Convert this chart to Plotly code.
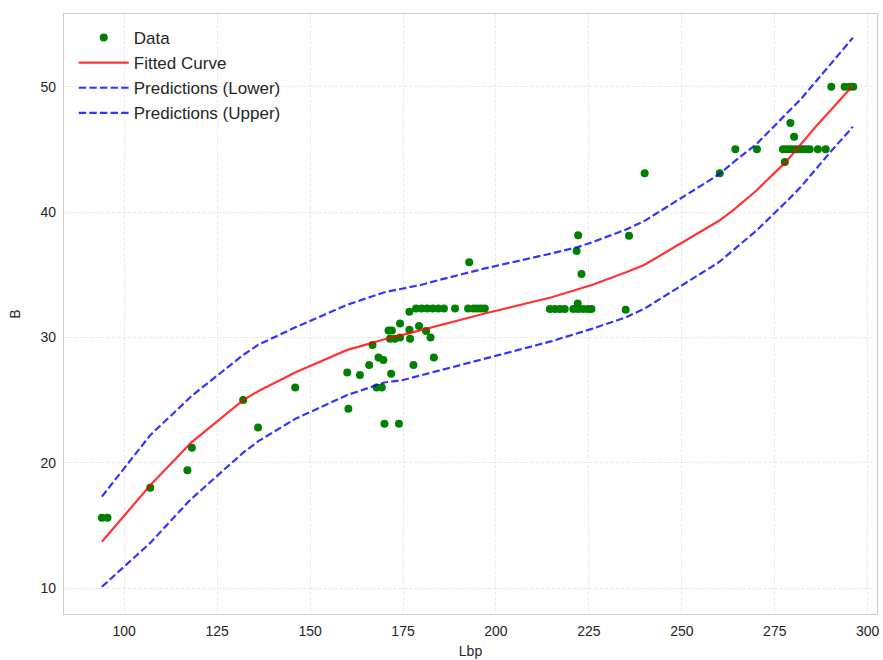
import plotly.graph_objects as go

# Observed measurements: length between perpendiculars (Lbp) vs breadth (B)
lbp = [94, 95.5, 107, 117, 118.2, 132, 136, 146, 160, 160.3,
       163.4, 165.9, 166.8, 168.4, 169.7, 167.9, 169.3, 170, 173.9,
       171.1, 172, 171.5, 172.8, 174.2, 176.9, 174.2, 176.7, 179.3, 181.2, 182.4,
       171.8, 177.8, 183.3, 176.7,
       178.5, 180, 181.5, 183, 184.5, 186, 189, 192.5, 194, 195, 196, 197, 192.8,
       214.5, 215.9, 217.2, 218.5, 220.8, 222.1, 223.5, 224.8, 225.7, 222,
       222.1, 221.7, 223, 235.8, 234.9, 240,
       260.2, 264.4, 270.2, 277.7, 279.2, 280.2,
       277.2, 278.1, 279, 279.9, 280.8, 281.7, 282.6, 283.5, 284.4, 286.6, 288.7,
       290.2, 293.8, 295.2, 296.1]
breadth = [15.6, 15.6, 18.0, 19.4, 21.2, 25.0, 22.8, 26.0, 27.2, 24.3,
           27.0, 27.8, 29.4, 28.4, 28.2, 26.0, 26.0, 23.1, 23.1,
           30.55, 30.55, 29.9, 29.9, 30.0, 29.9, 31.1, 30.6, 30.9, 30.5, 30.0,
           27.1, 27.8, 28.4, 32.05,
           32.3, 32.3, 32.3, 32.3, 32.3, 32.3, 32.3, 32.3, 32.3, 32.3, 32.3, 32.3, 36.0,
           32.27, 32.27, 32.27, 32.27, 32.27, 32.27, 32.27, 32.27, 32.27, 32.7,
           38.15, 36.9, 35.05, 38.1, 32.2, 43.1,
           43.1, 45.0, 45.0, 44.0, 47.1, 46.0,
           45, 45, 45, 45, 45, 45, 45, 45, 45, 45, 45,
           50, 50, 50, 50]

# Fitted curve and prediction bounds, evaluated at the fit grid
fit_x = [94, 107, 117, 118, 132, 136, 146, 160, 166, 170, 175, 180, 185, 190,
         197, 215, 222, 226, 235, 240, 260, 264, 270, 278, 282, 286, 290, 296]
fit_y = [13.7, 18.2, 21.3, 21.6, 25.0, 25.7, 27.2, 29.0, 29.5, 29.85, 30.2, 30.6,
         31.0, 31.4, 31.9, 33.2, 33.8, 34.2, 35.2, 35.8, 39.3, 40.2, 41.7, 44.0,
         45.4, 46.8, 48.1, 50.1]
pred_lower = [10.1, 13.6, 16.8, 17.1, 20.8, 21.7, 23.5, 25.4, 26.0, 26.4, 26.6, 27.0,
              27.4, 27.8, 28.3, 29.7, 30.3, 30.7, 31.6, 32.3, 36.0, 37.0, 38.5, 40.8,
              42.0, 43.4, 44.8, 46.8]
pred_upper = [17.3, 22.2, 25.0, 25.3, 28.6, 29.4, 30.8, 32.6, 33.2, 33.6, 33.9, 34.2,
              34.6, 35.0, 35.5, 36.7, 37.2, 37.6, 38.6, 39.3, 43.0, 44.0, 45.4, 47.8,
              49.0, 50.4, 51.8, 53.9]

x_ticks = [100, 125, 150, 175, 200, 225, 250, 275, 300]
y_ticks = [10, 20, 30, 40, 50]

FONT = "Liberation Sans, Arial, sans-serif"
GRID = "#ebebeb"
FRAME = "#cccccc"

fig = go.Figure()
fig.add_trace(go.Scatter(x=lbp, y=breadth, mode="markers", name="Data",
                         marker=dict(color="#008000", size=8, line=dict(width=0))))
fig.add_trace(go.Scatter(x=fit_x, y=fit_y, mode="lines", name="Fitted Curve",
                         line=dict(color="rgba(255,0,0,0.8)", width=2.2)))
fig.add_trace(go.Scatter(x=fit_x, y=pred_lower, mode="lines", name="Predictions (Lower)",
                         line=dict(color="rgba(0,0,255,0.8)", width=2.2, dash="7.4px,3.2px")))
fig.add_trace(go.Scatter(x=fit_x, y=pred_upper, mode="lines", name="Predictions (Upper)",
                         line=dict(color="rgba(0,0,255,0.8)", width=2.2, dash="7.4px,3.2px")))

axis_common = dict(
    showgrid=True, gridcolor=GRID, griddash="3.7px,1.6px", gridwidth=1,
    zeroline=False, showline=True, linecolor=FRAME, linewidth=1.3, mirror=True,
    ticks="outside", ticklen=4, tickcolor="rgba(0,0,0,0)",
    tickfont=dict(family=FONT, size=14, color="#262626"),
)

fig.update_layout(
    width=883, height=660,
    margin=dict(l=64, r=3, t=14, b=44),
    paper_bgcolor="white", plot_bgcolor="white",
    font=dict(family=FONT, color="#262626"),
    showlegend=True,
    legend=dict(x=0.012, y=0.99, xanchor="left", yanchor="top",
                bgcolor="rgba(0,0,0,0)", borderwidth=0,
                font=dict(family=FONT, size=17, color="#262626"),
                itemwidth=50),
    xaxis=dict(range=[83.8, 302.5], tickvals=x_ticks,
               title=dict(text="Lbp", font=dict(family=FONT, size=14, color="#262626"),
                          standoff=8),
               **axis_common),
    yaxis=dict(range=[7.93, 55.8], tickvals=y_ticks,
               title=dict(text="B", font=dict(family=FONT, size=14, color="#262626"),
                          standoff=16),
               **axis_common),
)

fig.write_html("out.html")
